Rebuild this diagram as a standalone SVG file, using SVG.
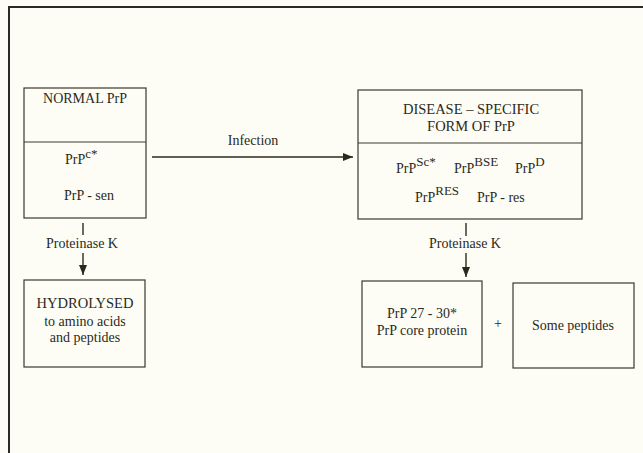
<svg xmlns="http://www.w3.org/2000/svg" width="643" height="453" viewBox="0 0 643 453">
<defs>
<style>
.t{font-family:"Liberation Serif","Times New Roman",serif;font-size:14px;fill:#2a2a1c}
.c{text-anchor:middle}
.sup{font-size:13px}
.box{fill:none;stroke:#3a3a2c;stroke-width:1.2}
.ln{stroke:#2a2a1c;stroke-width:1.4;fill:none}
</style>
<marker id="ah" viewBox="0 0 10 10" refX="10" refY="5" markerWidth="10" markerHeight="10" markerUnits="userSpaceOnUse" orient="auto">
<path d="M0,1 L10,5 L0,9 Z" fill="#2a2a1c"/>
</marker>
</defs>
<rect width="643" height="453" fill="#fdfdf6"/>
<g id="frame">
<path d="M9,453 V7 H643" fill="none" stroke="#2a2a24" stroke-width="2"/>
</g>
<g id="normal">
<rect class="box" x="24" y="88" width="122" height="130"/>
<line class="box" x1="24" y1="142" x2="146" y2="142"/>
<text class="t c" x="85" y="103">NORMAL PrP</text>
<text class="t" x="65" y="164">PrP<tspan class="sup" dy="-6">c*</tspan></text>
<text class="t c" x="89" y="200">PrP - sen</text>
</g>
<g id="disease">
<rect class="box" x="358" y="90" width="224" height="129"/>
<line class="box" x1="358" y1="143" x2="582" y2="143"/>
<text class="t c" x="471" y="114" style="font-size:14.5px">DISEASE – SPECIFIC</text>
<text class="t c" x="471" y="131" style="font-size:14.5px">FORM OF PrP</text>
<text class="t" x="396" y="173">PrP<tspan class="sup" dy="-7">Sc*</tspan></text>
<text class="t" x="454" y="173">PrP<tspan class="sup" dy="-7">BSE</tspan></text>
<text class="t" x="515" y="173">PrP<tspan class="sup" dy="-7">D</tspan></text>
<text class="t" x="415" y="202">PrP<tspan class="sup" dy="-7">RES</tspan></text>
<text class="t" x="477" y="202">PrP - res</text>
</g>
<g id="hydrolysed">
<rect class="box" x="24" y="280" width="121" height="87"/>
<text class="t c" x="85" y="308" style="font-size:14.5px">HYDROLYSED</text>
<text class="t c" x="85" y="326">to amino acids</text>
<text class="t c" x="85" y="342">and peptides</text>
</g>
<g id="core">
<rect class="box" x="362" y="281" width="120" height="86"/>
<text class="t c" x="422" y="318">PrP 27 - 30*</text>
<text class="t c" x="422" y="335">PrP core protein</text>
</g>
<text class="t c" x="498" y="328">+</text>
<g id="peptides">
<rect class="box" x="513" y="283" width="121" height="85"/>
<text class="t c" x="573" y="330">Some peptides</text>
</g>
<g id="connectors">
<line class="ln" x1="152" y1="157" x2="353" y2="157" marker-end="url(#ah)"/>
<text class="t c" x="253" y="145">Infection</text>
<line class="ln" x1="83" y1="223" x2="83" y2="235"/>
<text class="t c" x="82" y="248">Proteinase K</text>
<line class="ln" x1="83" y1="253" x2="83" y2="275" marker-end="url(#ah)"/>
<line class="ln" x1="466" y1="223" x2="466" y2="236"/>
<text class="t c" x="465" y="248">Proteinase K</text>
<line class="ln" x1="466" y1="253" x2="466" y2="277" marker-end="url(#ah)"/>
</g>
</svg>
